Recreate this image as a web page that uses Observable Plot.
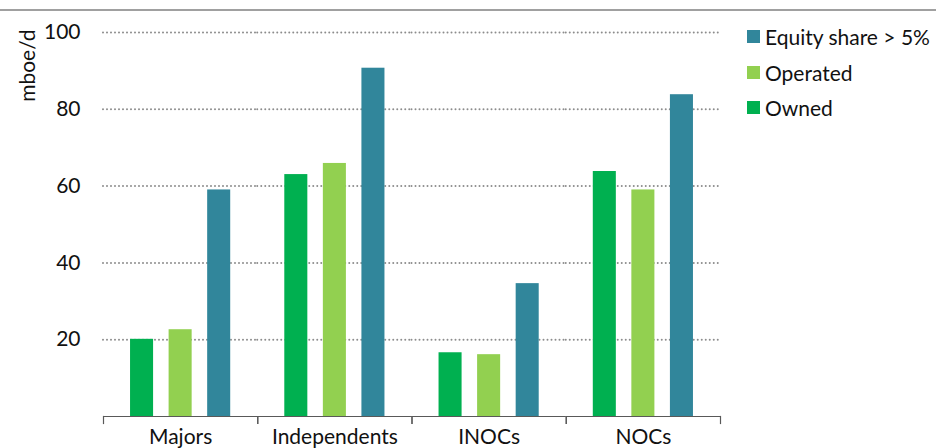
<!DOCTYPE html>
<html>
<head>
<meta charset="utf-8">
<script src="https://cdn.jsdelivr.net/npm/d3@7"></script>
<script src="https://cdn.jsdelivr.net/npm/@observablehq/plot@0.6"></script>
<style>
  body { margin: 0; background: #fff; }
  #wrap { position: relative; width: 936px; height: 448px; font-family: Lato, "Noto Sans", sans-serif; }
  #topline { position: absolute; left: 0; top: 8.5px; width: 936px; height: 2.5px; background: #a0a0a0; }
  #legend { position: absolute; left: 747px; top: 19px; font-size: 21px; color: #111; }
  .item { display: flex; align-items: center; height: 35.5px; }
  .sw { width: 13px; height: 13px; margin-right: 5px; }
</style>
</head>
<body>
<div id="wrap">
  <div id="topline"></div>
  <div id="chart"></div>
  <div id="legend"></div>
</div>
<script>
const categories = ["Majors", "Independents", "INOCs", "NOCs"];
const series = ["Owned", "Operated", "Equity share > 5%"];
const owned = [20.1, 63.0, 16.6, 63.8];
const operated = [22.6, 65.9, 16.1, 59.0];
const equity = [59.0, 90.7, 34.6, 83.8];
const colors = ["#00b050", "#92d050", "#31869b"];
const yTicks = [20, 40, 60, 80, 100];
const yLabel = "mboe/d";

const values = [owned, operated, equity];
const data = [];
categories.forEach((c, i) => series.forEach((s, j) => data.push({cat: c, series: s, value: values[j][i]})));

const chart = Plot.plot({
  width: 936,
  height: 448,
  marginLeft: 103,
  marginRight: 216,
  marginTop: 32,
  marginBottom: 32,
  style: {fontFamily: "Lato, 'Noto Sans', sans-serif", fontSize: "21px", color: "#111", background: "transparent"},
  fx: {domain: categories, padding: 0, label: null, axis: null, round: false},
  x: {domain: series, paddingInner: 0.4026, paddingOuter: 0.7013, axis: null, round: false},
  y: {domain: [0, 100], axis: null},
  color: {domain: series, range: colors},
  marks: [
    Plot.gridY(yTicks, {stroke: "#8c8c8c", strokeOpacity: 1, strokeDasharray: "0,4", strokeLinecap: "round", strokeWidth: 2}),
    Plot.barY(data, {fx: "cat", x: "series", y: "value", fill: "series"}),
    Plot.ruleY([0], {stroke: "#595959", strokeWidth: 1.2}),
    Plot.frame({anchor: "left", stroke: "#595959", strokeWidth: 1.2, insetTop: 384, insetBottom: -7}),
    Plot.frame({anchor: "right", stroke: "#595959", strokeWidth: 1.2, insetTop: 384, insetBottom: -7}),
    Plot.axisY(yTicks, {tickSize: 0, tickPadding: 23, fontSize: 21, label: null}),
    Plot.axisFx({anchor: "bottom", tickSize: 0, tickPadding: 13, fontSize: 21, label: null}),
    Plot.text([yLabel], {fx: ["Majors"], frameAnchor: "top-left", rotate: -90, textAnchor: "end", dx: -83, dy: -3, fontSize: 21, fill: "#111"})
  ]
});
document.getElementById("chart").appendChild(chart);

const legend = document.getElementById("legend");
[2, 1, 0].forEach(j => {
  const it = document.createElement("div");
  it.className = "item";
  const sw = document.createElement("div");
  sw.className = "sw";
  sw.style.background = colors[j];
  const t = document.createElement("span");
  t.textContent = series[j];
  it.appendChild(sw);
  it.appendChild(t);
  legend.appendChild(it);
});
</script>
</body>
</html>
